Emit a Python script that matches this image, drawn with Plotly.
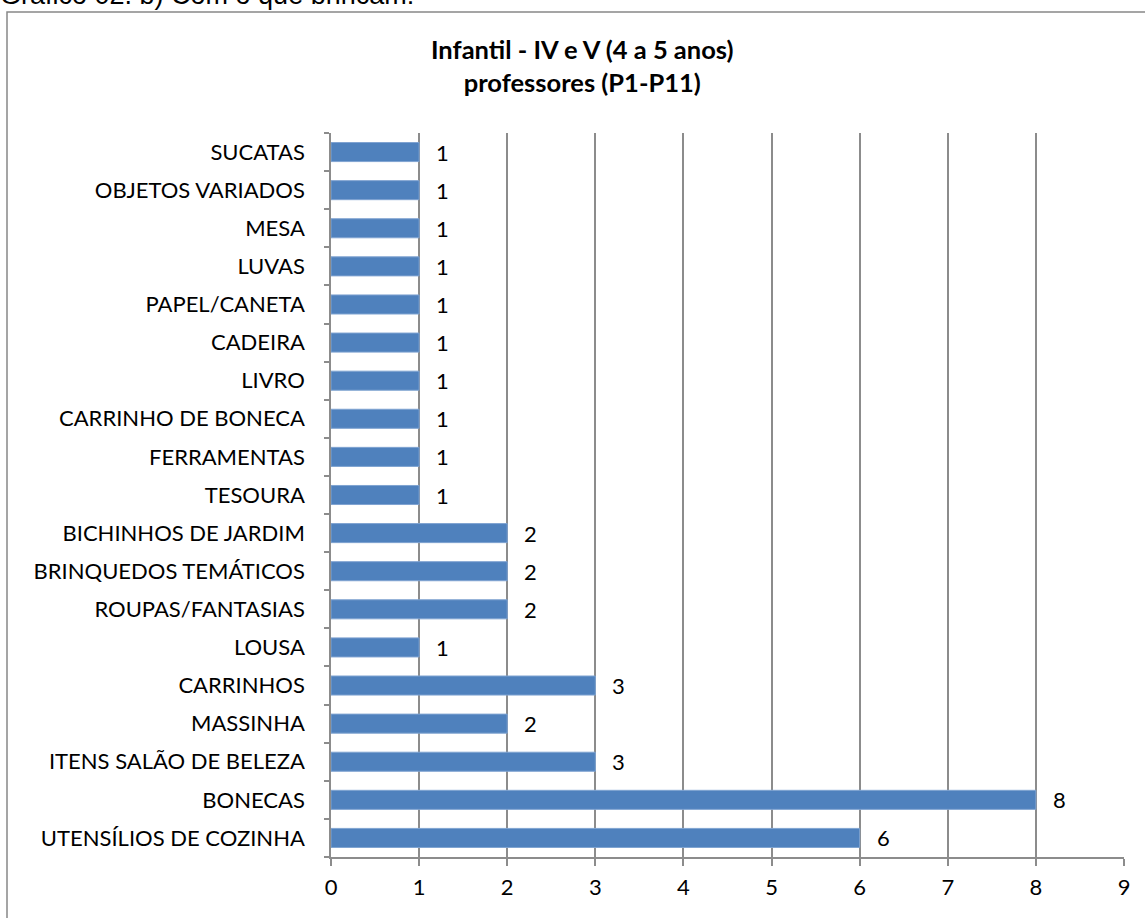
import plotly.graph_objects as go

categories = [
    "UTENSÍLIOS DE COZINHA", "BONECAS", "ITENS SALÃO DE BELEZA", "MASSINHA",
    "CARRINHOS", "LOUSA", "ROUPAS/FANTASIAS", "BRINQUEDOS TEMÁTICOS",
    "BICHINHOS DE JARDIM", "TESOURA", "FERRAMENTAS", "CARRINHO DE BONECA",
    "LIVRO", "CADEIRA", "PAPEL/CANETA", "LUVAS", "MESA", "OBJETOS VARIADOS",
    "SUCATAS",
]
values = [6, 8, 3, 2, 3, 1, 2, 2, 2, 1, 1, 1, 1, 1, 1, 1, 1, 1, 1]
x_ticks = [0, 1, 2, 3, 4, 5, 6, 7, 8, 9]

title_text = "<b>Infantil - IV e V (4 a 5 anos)<br>professores (P1-P11)</b>"
caption_text = "Gráfico 02. b) Com o que brincam:"

FONT = "Lato"
GRID = "#8c8c8c"

fig = go.Figure()
fig.add_trace(go.Bar(
    y=categories, x=values, orientation="h",
    marker=dict(color="#4F81BD", line=dict(color="#7fa3d1", width=1)),
    width=0.5, hoverinfo="skip",
))

for c, v in zip(categories, values):
    fig.add_annotation(x=v, y=c, text=str(v), showarrow=False,
                       xanchor="left", xshift=15,
                       font=dict(family=FONT, size=22, color="black"))

L, R, T, B = 331, 21, 133, 61
W, H = 1145, 918
pw, ph = W - L - R, H - T - B

def px_x(p):
    return (p - L) / pw

def px_y(p):
    return (H - B - p) / ph

fig.add_shape(type="rect", xref="paper", yref="paper",
              x0=px_x(7), x1=px_x(1170), y0=px_y(950), y1=px_y(12),
              line=dict(color="#888888", width=1.5), layer="below")

fig.add_annotation(xref="paper", yref="paper", x=px_x(582), y=px_y(66),
                   text=title_text, showarrow=False, xanchor="center", yanchor="middle",
                   font=dict(family=FONT, size=25.5, color="black"))

fig.add_annotation(xref="paper", yref="paper", x=px_x(-2), y=px_y(12),
                   text=caption_text, showarrow=False, xanchor="left", yanchor="bottom",
                   font=dict(family="Liberation Sans", size=27, color="black"))

fig.update_layout(
    width=W, height=H,
    margin=dict(l=L, r=R, t=T, b=B),
    paper_bgcolor="white", plot_bgcolor="white",
    showlegend=False,
    xaxis=dict(range=[0, 9], tickvals=x_ticks, showgrid=True, gridcolor=GRID, gridwidth=1.5,
               showline=True, linecolor=GRID, linewidth=1.5,
               ticks="outside", ticklen=7, tickcolor=GRID, tickwidth=1.5,
               tickfont=dict(family=FONT, size=22, color="black"),
               ticklabelstandoff=3, zeroline=False, fixedrange=True),
    yaxis=dict(type="category", categoryorder="array", categoryarray=categories,
               showline=True, linecolor=GRID, linewidth=1.5,
               ticks="outside", ticklen=5, tickcolor=GRID, tickwidth=1.5,
               tickson="boundaries", showgrid=False,
               tickfont=dict(family=FONT, size=22, color="black"),
               ticklabelstandoff=20, fixedrange=True),
)

fig.write_html("out.html", config={"displayModeBar": False},
               post_script="document.body.style.margin='0px';document.body.style.overflow='hidden';")
